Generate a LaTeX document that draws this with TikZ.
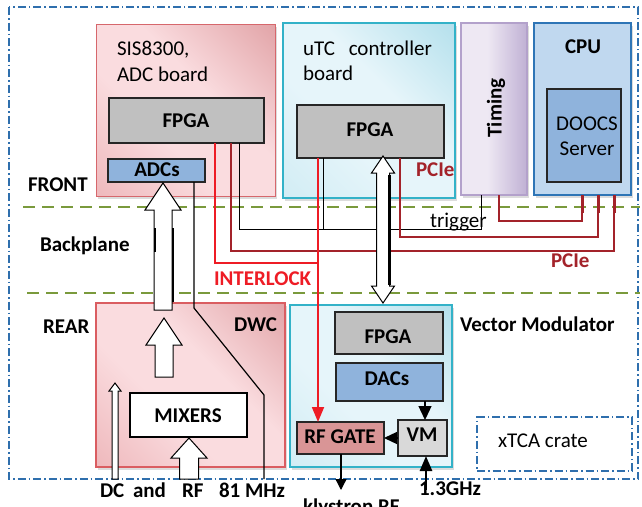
\documentclass[tikz,border=0pt]{standalone}
\usepackage{fontspec}
\setmainfont{Carlito}
\usetikzlibrary{arrows.meta,shadows,calc}

\definecolor{crate}{HTML}{2F6FAD}
\definecolor{plane}{HTML}{7A9A3C}
\definecolor{pinkL}{HTML}{FADCDF}
\definecolor{pinkM}{HTML}{E8A4A8}
\definecolor{pinkD}{HTML}{D5868A}
\definecolor{pinkEdge}{HTML}{D6676C}
\definecolor{cyanL}{HTML}{E6F5FA}
\definecolor{cyanM}{HTML}{C6E8F1}
\definecolor{cyanD}{HTML}{9AD5E5}
\definecolor{cyanEdge}{HTML}{33B2C8}
\definecolor{purL}{HTML}{EEE8F3}
\definecolor{purD}{HTML}{B8A7CF}
\definecolor{purEdge}{HTML}{B3A1CB}
\definecolor{cpuFill}{HTML}{C0D8EF}
\definecolor{cpuEdge}{HTML}{2E75B6}
\definecolor{chipBlue}{HTML}{8FB3DC}
\definecolor{fpgaGray}{HTML}{C0C0C0}
\definecolor{vmGray}{HTML}{D9D9D9}
\definecolor{gateRose}{HTML}{D99596}
\definecolor{ilkRed}{HTML}{EE1C25}
\definecolor{pcieRed}{HTML}{A3232A}

\pgfdeclarehorizontalshading{pinkshade}{100bp}{color(0bp)=(pinkM); color(40bp)=(pinkL); color(58bp)=(pinkL); color(100bp)=(pinkD)}
\pgfdeclarehorizontalshading{cyanshade}{100bp}{color(0bp)=(cyanM); color(40bp)=(cyanL); color(58bp)=(cyanL); color(100bp)=(cyanD)}
\pgfdeclarehorizontalshading{purshade}{100bp}{color(0bp)=(purL); color(45bp)=(purL); color(80bp)=(purD); color(100bp)=(purL)}

% block arrow: tip x, tip y, tail y, head half width, shaft half width, head length
\newcommand{\fatarrow}[6]{%
  \pgfmathsetmacro{\fahb}{#2+sign(#3-#2)*#6}%
  \draw[blockarrow] (#1,#2) -- ({#1+#4},\fahb) -- ({#1+#5},\fahb) -- ({#1+#5},#3)
    -- ({#1-#5},#3) -- ({#1-#5},\fahb) -- ({#1-#4},\fahb) -- cycle;}

\tikzset{
  txt/.style={inner sep=0pt, outer sep=0pt, font=\fontsize{21}{25}\selectfont},
  btxt/.style={txt, font=\fontsize{21}{25}\selectfont\bfseries},
  box/.style={inner sep=0pt, outer sep=0pt, anchor=north west},
  shadowed/.style={drop shadow={opacity=0.28, shadow xshift=2pt, shadow yshift=-3pt}},
  pinkboard/.style={box, shadowed, draw=pinkEdge, line width=1pt, shading=pinkshade, shading angle=45},
  cyanboard/.style={box, shadowed, draw=cyanEdge, line width=1.4pt, shading=cyanshade, shading angle=45},
  chip/.style={box, draw=black!85, line width=1.6pt},
  fpga/.style={chip, fill=fpgaGray},
  blockarrow/.style={draw=black, line width=1pt, fill=white},
  ilk/.style={draw=ilkRed, line width=1.8pt},
  pcie/.style={draw=pcieRed, line width=1.4pt},
  sig/.style={draw=black, line width=0.8pt},
  tri/.style={-{Triangle[width=13pt,length=14pt]}},
}

\begin{document}
\begin{tikzpicture}[x=1pt,y=-1pt]
\useasboundingbox (0,0) rectangle (642,506);

% crate outline and plane separators
\draw[crate, line width=1.4pt, dash pattern=on 8pt off 3pt on 1.5pt off 3pt] (9,7) rectangle (638,479);
\draw[plane, line width=1.5pt, dash pattern=on 12pt off 7pt] (23,207) -- (640,207);
\draw[plane, line width=1.5pt, dash pattern=on 12pt off 7pt] (27,293) -- (640,293);

% front boards
\node[pinkboard, minimum width=179, minimum height=172] (sis) at (96,24) {};
\node[fpga, minimum width=155, minimum height=45] (adcfpga) at (109,98) {};
\node[chip, fill=chipBlue, minimum width=97, minimum height=23] (adcs) at (108,159) {};

\node[cyanboard, minimum width=172, minimum height=175] (utc) at (283,23) {};
\node[fpga, minimum width=147, minimum height=53] (utcfpga) at (297,105) {};

\node[box, shadowed, draw=purEdge, line width=1.4pt, shading=purshade, minimum width=66, minimum height=172] (timing) at (461,23) {};

\node[box, shadowed, draw=cpuEdge, line width=1.4pt, fill=cpuFill, minimum width=97, minimum height=172] (cpu) at (534,23) {};
\node[box, draw=black!85, line width=1.6pt, fill=chipBlue, minimum width=74, minimum height=93] (doocs) at (547,89) {};

% rear boards
\node[pinkboard, draw=pinkEdge!90!red, line width=1.2pt, minimum width=189, minimum height=164] (dwc) at (96,303) {};
\node[box, draw=black, line width=1.2pt, fill=white, minimum width=117, minimum height=44] (mixers) at (130,393) {};

\node[cyanboard, minimum width=162, minimum height=162] (vmod) at (290,305) {};
\node[fpga, minimum width=108, minimum height=42] (vmfpga) at (335,312) {};
\node[chip, fill=chipBlue, minimum width=107, minimum height=38] (dacs) at (336,363) {};
\node[chip, line width=2pt, fill=vmGray, minimum width=49, minimum height=36] (vm) at (398,420) {};
\node[chip, line width=2pt, fill=gateRose, minimum width=87, minimum height=32] (rfgate) at (297,422) {};

\node[box, draw=crate, line width=1.5pt, dash pattern=on 8pt off 3pt on 1.5pt off 3pt, minimum width=155, minimum height=54] (xtca) at (477,417) {};

% backplane wiring
\draw[sig] (adcfpga.south -| 239,0) |- (481,229) -- (timing.south -| 481,0);
\draw[sig] (utcfpga.south -| 323,0) -- (323,229);
\draw[pcie] (adcfpga.south -| 231,0) |- (614,251) -- (cpu.south -| 614,0);
\draw[pcie] (utcfpga.south -| 400,0) |- (598,237) -- (cpu.south -| 598,0);
\draw[pcie] (timing.south -| 499,0) |- (582,221) -- (cpu.south -| 582,0);
\foreach \px in {582,598,614} \draw[pcieRed, line width=3pt] (cpu.south -| \px,0) -- (\px,213);

% interlock path
\draw[ilk] (adcfpga.south -| 215,0) |- (318,263);
\draw[ilk, -{Triangle[width=12pt,length=15pt]}] (utcfpga.south -| 318,0) -- (rfgate.north -| 318,0);

% 81 MHz clock line
\draw[black, line width=1.2pt] (adcs.south -| 194,0) -- (194,308) -- (264,395) -- (264,479);

% block arrows
\fatarrow{163}{183}{310}{18}{9}{27}
\draw[black, line width=2.5pt] (173,228) -- (173,302);
\draw[black, line width=2.5pt] (155,228) -- (155,252);
\fatarrow{164}{318}{377}{18}{9}{27}
\fatarrow{189}{438}{479}{18}{9.5}{20}
\fatarrow{115}{383}{479}{6}{3}{8}
\draw[blockarrow] (383,156) -- (394.5,173) -- (389.5,173) -- (389.5,286) -- (394.5,286)
  -- (383,303) -- (371.5,286) -- (376.5,286) -- (376.5,173) -- (371.5,173) -- cycle;
\draw[black, line width=2.5pt] (389.5,175) -- (389.5,285);

% vector modulator signal flow
\draw[black, line width=1.3pt, tri] (dacs.south -| 425,0) -- (vm.north -| 425,0);
\draw[black, line width=1.3pt, -{Triangle[width=12pt,length=13pt]}] (vm.west) -- (rfgate.east |- vm.west);
\coordinate (klyout) at (341,490);
\coordinate (lo13) at (426,490);
\draw[black, line width=1.3pt, -{Triangle[width=11pt,length=11pt]}] (rfgate.south -| 341,0) -- (klyout);
\draw[black, line width=2.5pt, -{Triangle[width=12pt,length=15pt]}] (lo13) -- (vm.south -| 426,0);

% labels
\node[txt, anchor=base west] (tsis) at (117,55) {SIS8300,};
\node[txt, anchor=base west] (tadc) at (117,81) {ADC board};
\node[btxt] (tafpga) at (186,121) {FPGA};
\node[btxt] (tadcs) at (157,170) {ADCs};
\node[txt, anchor=base west] (tutc) at (303,55) {uTC\hspace{9pt} controller};
\node[txt, anchor=base west] (tboard) at (303,80) {board};
\node[btxt] (tufpga) at (370,130) {FPGA};
\node[btxt, text=pcieRed, anchor=base west] (tpcie1) at (416,176) {PCIe};
\node[btxt, rotate=90] (ttiming) at (496,108) {Timing};
\node[btxt, anchor=base] (tcpu) at (583,53) {CPU};
\node[txt, anchor=base] (tdoocs) at (587,130) {DOOCS};
\node[txt, anchor=base] (tserver) at (587,155) {Server};
\node[btxt, anchor=base west] (tfront) at (28,191) {FRONT};
\node[btxt, anchor=base west] (tback) at (40,251) {Backplane};
\node[btxt, anchor=base west] (trear) at (43,333) {REAR};
\node[txt, anchor=base west] (ttrig) at (430,227) {trigger};
\node[btxt, text=pcieRed, anchor=base west] (tpcie2) at (551,267) {PCIe};
\node[btxt, text=ilkRed, anchor=base west] (tilk) at (214,285) {INTERLOCK};
\node[btxt, anchor=base east] (tdwc) at (277,331) {DWC};
\node[btxt] (tmix) at (188,416) {MIXERS};
\node[btxt, anchor=base west] (tvmod) at (460,331) {Vector Modulator};
\node[btxt, anchor=base] (tvfpga) at (388,343) {FPGA};
\node[btxt, anchor=base] (tdacs) at (387,385) {DACs};
\node[btxt, anchor=base] (tvm) at (422,441) {VM};
\node[btxt, anchor=base] (tgate) at (340,443) {RF GATE};
\node[txt, anchor=base west] (txtca) at (498,447) {xTCA crate};
\node[btxt, anchor=base west] (tdc) at (100,497) {DC};
\node[btxt, anchor=base west] (tand) at (133,497) {and};
\node[btxt, anchor=base west] (trf) at (182,497) {RF};
\node[btxt, anchor=base west] (t81) at (219,497) {81 MHz};
\node[btxt, anchor=base west] (tkly) at (303,513) {klystron RF};
\node[btxt, anchor=base west] (t13) at (419,495) {1.3GHz};
\end{tikzpicture}
\end{document}
